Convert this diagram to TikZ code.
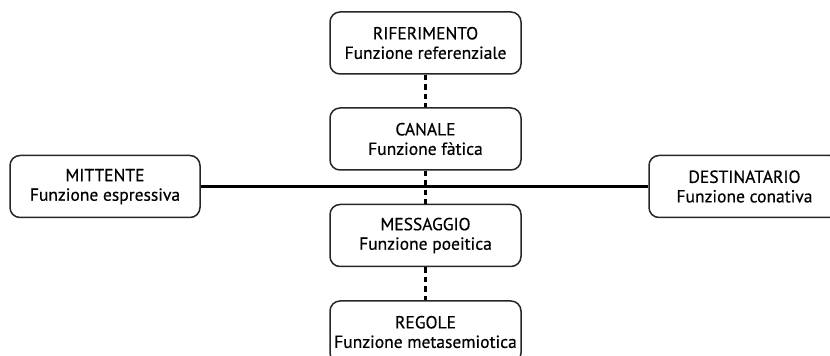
\documentclass[tikz,border=0pt]{standalone}
\usepackage{fontspec}
\setmainfont[FakeBold=0.5]{PT Sans}
\begin{document}
\begin{tikzpicture}[x=1pt,y=1pt,
  box/.style={draw=black!85, line width=1.5pt, rounded corners=10pt, minimum width=191pt, minimum height=62pt, align=center, inner sep=0pt, font=\fontsize{17.5}{19.5}\selectfont},
  dashline/.style={line width=2.2pt, dash pattern=on 5.5pt off 4pt},
  solidline/.style={line width=2.2pt}]
\useasboundingbox (0,0) rectangle (830,356);
\clip (0,0) rectangle (830,356);
\node[box] (rif) at (425.5,313) {RIFERIMENTO\\Funzione referenziale};
\node[box] (can) at (425.5,217) {CANALE\\Funzione fàtica};
\node[box] (mes) at (425.5,120.5) {MESSAGGIO\\Funzione poeitica};
\node[box] (reg) at (425.5,24) {REGOLE\\Funzione metasemiotica};
\node[box, minimum width=190pt] (mit) at (105,169.5) {MITTENTE\\Funzione espressiva};
\node[box] (des) at (744.5,169.5) {DESTINATARIO\\Funzione conativa};
\draw[solidline] (mit.east) -- (des.west);
\draw[dashline] (rif.south) -- (can.north);
\draw[dashline] (can.south) -- (mes.north);
\draw[dashline] (mes.south) -- (reg.north);
\end{tikzpicture}
\end{document}
